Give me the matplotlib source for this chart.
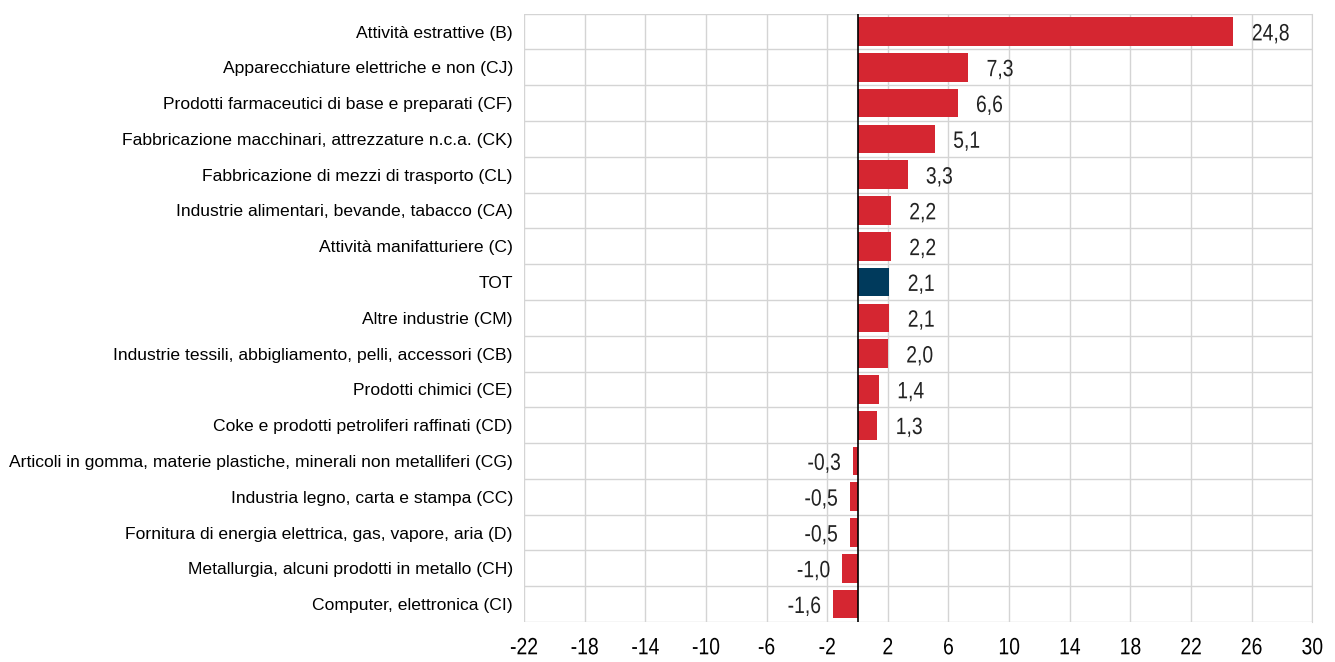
import matplotlib.pyplot as plt
from matplotlib.patheffects import AbstractPathEffect
from matplotlib.transforms import Affine2D

categories = [
    "Attività estrattive (B)",
    "Apparecchiature elettriche e non (CJ)",
    "Prodotti farmaceutici di base e preparati (CF)",
    "Fabbricazione macchinari, attrezzature n.c.a. (CK)",
    "Fabbricazione di mezzi di trasporto (CL)",
    "Industrie alimentari, bevande, tabacco (CA)",
    "Attività manifatturiere (C)",
    "TOT",
    "Altre industrie (CM)",
    "Industrie tessili, abbigliamento, pelli, accessori (CB)",
    "Prodotti chimici (CE)",
    "Coke e prodotti petroliferi raffinati (CD)",
    "Articoli in gomma, materie plastiche, minerali non metalliferi (CG)",
    "Industria legno, carta e stampa (CC)",
    "Fornitura di energia elettrica, gas, vapore, aria (D)",
    "Metallurgia, alcuni prodotti in metallo (CH)",
    "Computer, elettronica (CI)",
]
values = [24.8, 7.3, 6.6, 5.1, 3.3, 2.2, 2.2, 2.1, 2.1, 2.0, 1.4, 1.3,
          -0.3, -0.5, -0.5, -1.0, -1.6]
xticks = list(range(-22, 31, 4))


class Condense(AbstractPathEffect):
    # squeeze glyphs horizontally to imitate a narrow font
    def __init__(self, sx, anchor='left'):
        super().__init__()
        self.sx = sx
        self.anchor = anchor

    def draw_path(self, renderer, gc, tpath, affine, rgbFace=None):
        ext = tpath.get_extents()
        if self.anchor == 'right':
            x0 = ext.x1
        elif self.anchor == 'center':
            x0 = (ext.x0 + ext.x1) / 2
        else:
            x0 = ext.x0
        t = Affine2D().translate(-x0, 0).scale(self.sx, 1).translate(x0, 0) + affine
        renderer.draw_path(gc, tpath, t, rgbFace)


plt.rcParams['font.family'] = ['Liberation Sans', 'DejaVu Sans']

fig = plt.figure(figsize=(13.35, 6.62), dpi=100)
ax = fig.add_axes([0.3925, 0.0604, 0.5905, 0.919])

y = list(range(len(categories)))
colors = ['#003a5c' if c == "TOT" else '#d52631' for c in categories]
ax.barh(y, values, height=0.8, color=colors, zorder=3)

for yi, v in zip(y, values):
    label = f"{v:.1f}".replace('.', ',')
    if v >= 0:
        t = ax.text(v + 1.2, yi + 0.08, label, va='center', ha='left',
                    fontsize=17, color='#222222')
        t.set_path_effects([Condense(0.82, 'left')])
    else:
        t = ax.text(v - 0.8, yi + 0.08, label, va='center', ha='right',
                    fontsize=17, color='#222222')
        t.set_path_effects([Condense(0.82, 'right')])

ax.set_xlim(-22, 30)
ax.set_ylim(len(categories) - 0.5, -0.5)
ax.set_xticks(xticks)
ax.set_xticklabels([str(t) for t in xticks], fontsize=17)
ax.set_yticks(y)
ax.set_yticklabels(categories, fontsize=12.6)
for lab in ax.get_xticklabels():
    lab.set_path_effects([Condense(0.82, 'center')])
ax.set_yticks([i + 0.5 for i in range(-1, len(categories))], minor=True)
ax.tick_params(axis='both', length=0, which='both')
ax.tick_params(axis='x', pad=11)
ax.tick_params(axis='y', pad=8)
ax.grid(True, axis='x', color='#d4d4d4', linewidth=1, zorder=0)
ax.grid(True, axis='y', which='minor', color='#d4d4d4', linewidth=1, zorder=0)
ax.grid(False, axis='y', which='major')
ax.axvline(0, color='black', linewidth=1.2, zorder=4)
for s in ax.spines.values():
    s.set_visible(False)
ax.spines['right'].set_visible(True)
ax.spines['right'].set_color('#d4d4d4')

fig.savefig('out.png', dpi=100)
